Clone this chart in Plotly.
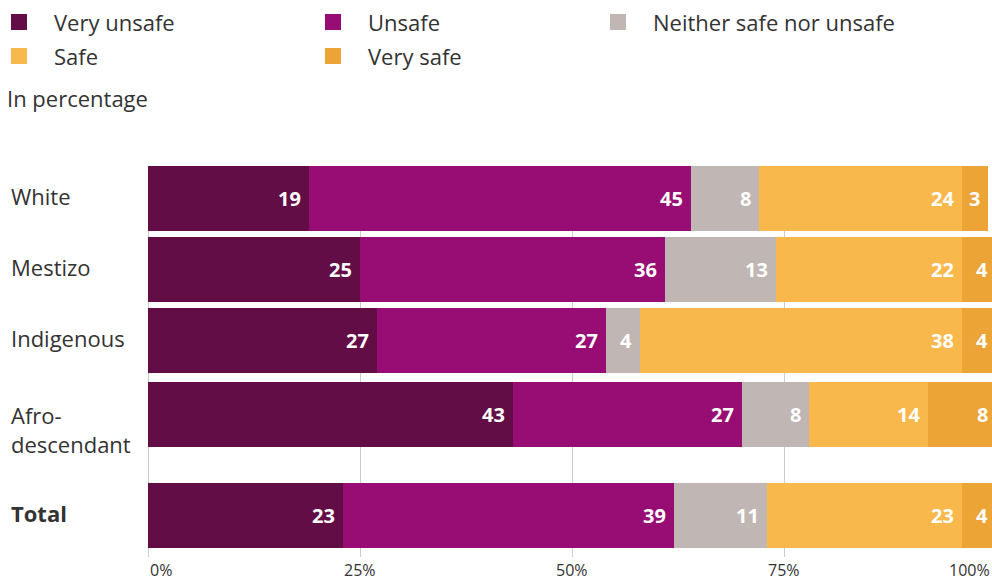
import plotly.graph_objects as go

# Perceived safety by ethnic self-identification (percent of respondents)
groups = ["White", "Mestizo", "Indigenous", "Afro-descendant", "Total"]
group_labels = ["White", "Mestizo", "Indigenous", "Afro-<br>descendant", "<b>Total</b>"]

series_names = ["Very unsafe", "Unsafe", "Neither safe nor unsafe", "Safe", "Very safe"]
very_unsafe = [19, 25, 27, 43, 23]
unsafe = [45, 36, 27, 27, 39]
neither = [8, 13, 4, 8, 11]
safe = [24, 22, 38, 14, 23]
very_safe = [3, 4, 4, 8, 4]
series_values = [very_unsafe, unsafe, neither, safe, very_safe]

series_colors = ["#620d45", "#980d74", "#c0b6b4", "#f9b84c", "#eca437"]

x_ticks = [0, 25, 50, 75, 100]
x_tick_labels = ["0%", "25%", "50%", "75%", "100%"]

# ---- geometry (pixels) ----
W, H = 992, 580
M_L, M_R, M_T, M_B = 148, 0, 166, 23
plot_w = W - M_L - M_R
plot_h = H - M_T - M_B
px_per_pct = 8.48
x_max = plot_w / px_per_pct  # axis is cut at the right edge of the page

BAR_PX = 64.7
GAP_PX = 6.3
extra_gap = {"Afro-descendant": 3.0, "Total": 30.0}

# y axis measured in pixels from the top of the plot area
row_y = []
cursor = 0.0
for g in groups:
    cursor += extra_gap.get(g, 0.0)
    row_y.append(cursor + BAR_PX / 2)
    cursor += BAR_PX + GAP_PX

TEXT = "#333333"
FONT = "'Open Sans', Lato, sans-serif"


def paper_x(px):
    return (px - M_L) / plot_w


def paper_y(py):
    return (H - M_B - py) / plot_h


def pct_to_paper(v):
    return v / x_max


fig = go.Figure()
for name, vals, color in zip(series_names, series_values, series_colors):
    fig.add_trace(go.Bar(
        name=name, x=vals, y=row_y, orientation="h",
        marker=dict(color=color, line=dict(width=0)),
        width=BAR_PX, showlegend=False, hoverinfo="x+name",
    ))

annotations = []

# value labels, right-aligned inside each segment
for i, g in enumerate(groups):
    cum = 0
    for vals in series_values:
        cum += vals[i]
        annotations.append(dict(
            x=pct_to_paper(cum), y=row_y[i], xref="paper", yref="y",
            text=f"<b>{vals[i]}</b>",
            showarrow=False, xanchor="right", yanchor="middle", xshift=-6,
            font=dict(family=FONT, size=20, color="white"),
        ))

# category labels, left-aligned
for i, lab in enumerate(group_labels):
    multi = "<br>" in lab
    annotations.append(dict(
        x=paper_x(9), y=row_y[i], xref="paper", yref="y", text=lab,
        showarrow=False, xanchor="left", yanchor="middle", align="left",
        yshift=-15 if multi else 2,
        font=dict(family=FONT, size=22, color=TEXT),
    ))

# x tick labels
for t, lab in zip(x_ticks, x_tick_labels):
    if t == x_ticks[0]:
        xa, xv = "left", t
    elif t == x_ticks[-1]:
        xa, xv = "right", min(t, x_max)
    else:
        xa, xv = "center", t
    annotations.append(dict(
        x=pct_to_paper(xv), y=paper_y(570), xref="paper", yref="paper", text=lab,
        showarrow=False, xanchor=xa, yanchor="middle",
        font=dict(family=FONT, size=16, color=TEXT),
    ))

# legend (three columns)
shapes = []
legend_cols = [11, 325, 610]
legend_rows = [22, 56]
for k, (name, color) in enumerate(zip(series_names, series_colors)):
    cx = legend_cols[k % 3]
    cy = legend_rows[k // 3]
    shapes.append(dict(
        type="rect", xref="paper", yref="paper",
        x0=paper_x(cx), x1=paper_x(cx + 16), y0=paper_y(cy - 8), y1=paper_y(cy + 8),
        fillcolor=color, line=dict(width=0),
    ))
    annotations.append(dict(
        x=paper_x(cx + 41), y=paper_y(cy), xref="paper", yref="paper", text=name,
        showarrow=False, xanchor="left", yanchor="middle",
        font=dict(family=FONT, size=22, color=TEXT),
    ))

annotations.append(dict(
    x=paper_x(5), y=paper_y(98), xref="paper", yref="paper", text="In percentage",
    showarrow=False, xanchor="left", yanchor="middle",
    font=dict(family=FONT, size=22, color=TEXT),
))

fig.update_layout(
    width=W, height=H,
    margin=dict(l=M_L, r=M_R, t=M_T, b=M_B, pad=0),
    barmode="stack", bargap=0,
    paper_bgcolor="white", plot_bgcolor="white",
    xaxis=dict(range=[0, x_max], tickvals=x_ticks, showticklabels=False,
               showgrid=True, gridcolor="#cccccc", gridwidth=1,
               zeroline=True, zerolinecolor="#cccccc", zerolinewidth=1,
               showline=False, ticks="", fixedrange=True),
    yaxis=dict(range=[plot_h, 0], visible=False, fixedrange=True),
    annotations=annotations, shapes=shapes,
    font=dict(family=FONT, color=TEXT),
)

fig.write_html("out.html")
